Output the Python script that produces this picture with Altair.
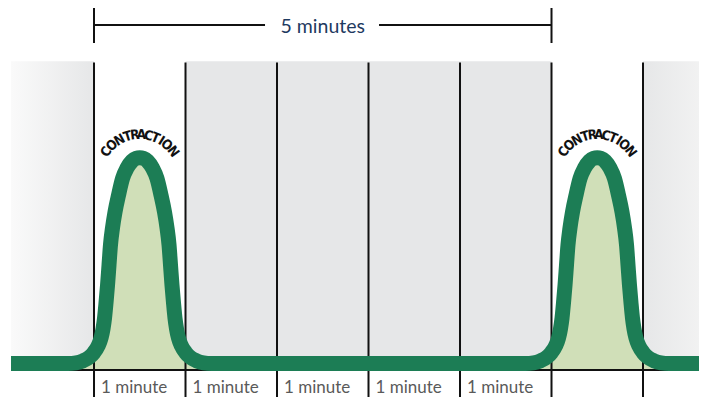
import math
import altair as alt
import pandas as pd

# ---------------- data ----------------
minute_marks = [0, 1, 2, 3, 4, 5, 6]
minute_labels = ["1 minute", "1 minute", "1 minute", "1 minute", "1 minute"]
label_starts = [0, 1, 2, 3, 4]
contraction_starts = [0, 5]
rest_start = [1]
rest_end = [5]
span_label = "5 minutes"
span_start = 0
span_end = 5
word = "CONTRACTION"
letter_angles = [-54.4, -42.3, -29.1, -17.0, -6.7, 2.3, 12.4, 22.3, 31.5, 40.9, 53.9]

# shape of one contraction (minutes from its start, intensity 0-100)
shape_t = [-0.284, -0.197, -0.120, -0.055, 0.0, 0.044, 0.077, 0.098, 0.115, 0.131,
           0.148, 0.164, 0.180, 0.202, 0.230, 0.268, 0.312, 0.361, 0.415, 0.459,
           0.5,
           0.541, 0.585, 0.639, 0.688, 0.732, 0.770, 0.798, 0.820, 0.836, 0.852,
           0.869, 0.885, 0.902, 0.923, 0.956, 1.0, 1.055, 1.120, 1.197, 1.284]
shape_i = [0, 0.3, 1.3, 2.9, 5.4, 8.5, 12.4, 16.8, 22.1, 29.4,
           38.2, 47.9, 57.6, 65.9, 73.8, 81.9, 90.0, 95.0, 98.4, 99.7,
           100,
           99.7, 98.4, 95.0, 90.0, 81.9, 73.8, 65.9, 57.6, 47.9, 38.2,
           29.4, 22.1, 16.8, 12.4, 8.5, 5.4, 2.9, 1.3, 0.3, 0]
trace_start = -0.907
trace_end = 6.7

# ---------------- layout constants ----------------
W, H = 691, 389
X_DOMAIN = [-0.94, 6.612]
Y_DOMAIN = [-16.29, 172.83]
PX_MIN = 91.5      # px per minute
PX_UNIT = 2.057    # px per intensity unit
BASE_LINE = -3.16
BAND_TOP = 147.0
LINE_TOP = 146.3
BRACKET_Y = 164.56
TICK_TOP = 172.83
TICK_BOTTOM = 155.81
GAP_L, GAP_R = 1.869, 3.115
LABEL_Y = -14.34

GREEN = "#1c7d55"
LIGHT = "#d0dfb8"
GRAY = "#e6e7e8"

xs = alt.Scale(domain=X_DOMAIN, nice=False, zero=False)
ys = alt.Scale(domain=Y_DOMAIN, nice=False, zero=False)


def X(f, **kw):
    return alt.X(f, type="quantitative", scale=xs, axis=None, **kw)


def Y(f, **kw):
    return alt.Y(f, type="quantitative", scale=ys, axis=None, **kw)


# trace
rows = [{"t": trace_start, "v": 0.0}]
for s in contraction_starts:
    for t, v in zip(shape_t, shape_i):
        rows.append({"t": s + t, "v": v})
rows.append({"t": trace_end, "v": 0.0})
trace = pd.DataFrame(rows)
trace["o"] = range(len(trace))
trace["b"] = BASE_LINE

# background
rest = pd.DataFrame({"a": rest_start, "b": rest_end, "y1": BAND_TOP, "y2": BASE_LINE})
left_fade = pd.DataFrame({"a": [trace_start], "b": [0], "y1": BAND_TOP, "y2": BASE_LINE})
right_fade = pd.DataFrame({"a": [6], "b": [6.699], "y1": BAND_TOP, "y2": BASE_LINE})

grad_l = alt.Gradient(gradient="linear", x1=0, x2=1, y1=0, y2=0,
                      stops=[alt.GradientStop(color="#fafafa", offset=0),
                             alt.GradientStop(color=GRAY, offset=1)])
grad_r = alt.Gradient(gradient="linear", x1=0, x2=1, y1=0, y2=0,
                      stops=[alt.GradientStop(color=GRAY, offset=0),
                             alt.GradientStop(color="#f3f3f3", offset=1)])

rest_l = alt.Chart(rest).mark_rect(color=GRAY).encode(x=X("a"), x2="b", y=Y("y1"), y2="y2")
fade_l = alt.Chart(left_fade).mark_rect(color=grad_l).encode(x=X("a"), x2="b", y=Y("y1"), y2="y2")
fade_r = alt.Chart(right_fade).mark_rect(color=grad_r).encode(x=X("a"), x2="b", y=Y("y1"), y2="y2")

fill = alt.Chart(trace).mark_area(color=LIGHT, interpolate="monotone", opacity=1).encode(
    x=X("t"), y=Y("v"), y2="b")

vlines = alt.Chart(pd.DataFrame({"m": minute_marks, "y1": LINE_TOP, "y2": Y_DOMAIN[0]})).mark_rule(
    color="#111111", strokeWidth=2).encode(x=X("m"), y=Y("y1"), y2="y2")

baseline = alt.Chart(pd.DataFrame({"a": [trace_start], "b": [trace_end], "y": [BASE_LINE]})).mark_rule(
    color="#111111", strokeWidth=2).encode(x=X("a"), x2="b", y=Y("y"))

line = alt.Chart(trace).mark_line(color=GREEN, strokeWidth=15, interpolate="monotone",
                                  strokeCap="butt", strokeJoin="round").encode(
    x=X("t"), y=Y("v"), order="o:Q")

# bracket
seg = pd.DataFrame({"a": [span_start, GAP_R], "b": [GAP_L, span_end], "y": BRACKET_Y})
bracket_h = alt.Chart(seg).mark_rule(color="#111111", strokeWidth=2).encode(x=X("a"), x2="b", y=Y("y"))
ticks = pd.DataFrame({"m": [span_start, span_end], "y1": TICK_TOP, "y2": TICK_BOTTOM})
bracket_v = alt.Chart(ticks).mark_rule(color="#111111", strokeWidth=2).encode(x=X("m"), y=Y("y1"), y2="y2")

span_txt = alt.Chart(pd.DataFrame({"t": [(span_start + span_end) / 2], "y": [BRACKET_Y], "s": [span_label]})).mark_text(
    font="Lato", fontSize=19.5, color="#1e3a5f", baseline="middle", align="center", dy=1.5).encode(
    x=X("t"), y=Y("y"), text="s:N")

lab = pd.DataFrame({"t": label_starts, "s": minute_labels, "y": LABEL_Y})
labels = alt.Chart(lab).mark_text(font="Lato", fontSize=17, color="#5a5a5a", align="left",
                                  baseline="alphabetic", dx=7).encode(x=X("t"), y=Y("y"), text="s:N")

# curved "CONTRACTION" word
R = 41.0
arc_center_v = 100 - 18.2 / PX_UNIT
lrows = []
for s in contraction_starts:
    for ch, a in zip(word, letter_angles):
        r = math.radians(a)
        lrows.append({"t": s + 0.5 + R * math.sin(r) / PX_MIN,
                      "y": arc_center_v + R * math.cos(r) / PX_UNIT,
                      "ch": ch, "ang": a % 360})
letters = alt.Chart(pd.DataFrame(lrows)).mark_text(
    font="DejaVu Sans Condensed, Roboto, sans-serif", fontSize=13.5, fontWeight="bold", color="#111111",
    align="center", baseline="middle").encode(
    x=X("t"), y=Y("y"), text="ch:N", angle=alt.Angle("ang:Q", scale=None))

chart = alt.layer(fade_l, fade_r, rest_l, fill, vlines, baseline, line,
                  bracket_h, bracket_v, span_txt, labels, letters).properties(
    width=W, height=H, padding=0, autosize="none", background="white"
).configure_view(strokeWidth=0)

chart.save("out.html", embed_options={"renderer": "svg", "actions": False})
